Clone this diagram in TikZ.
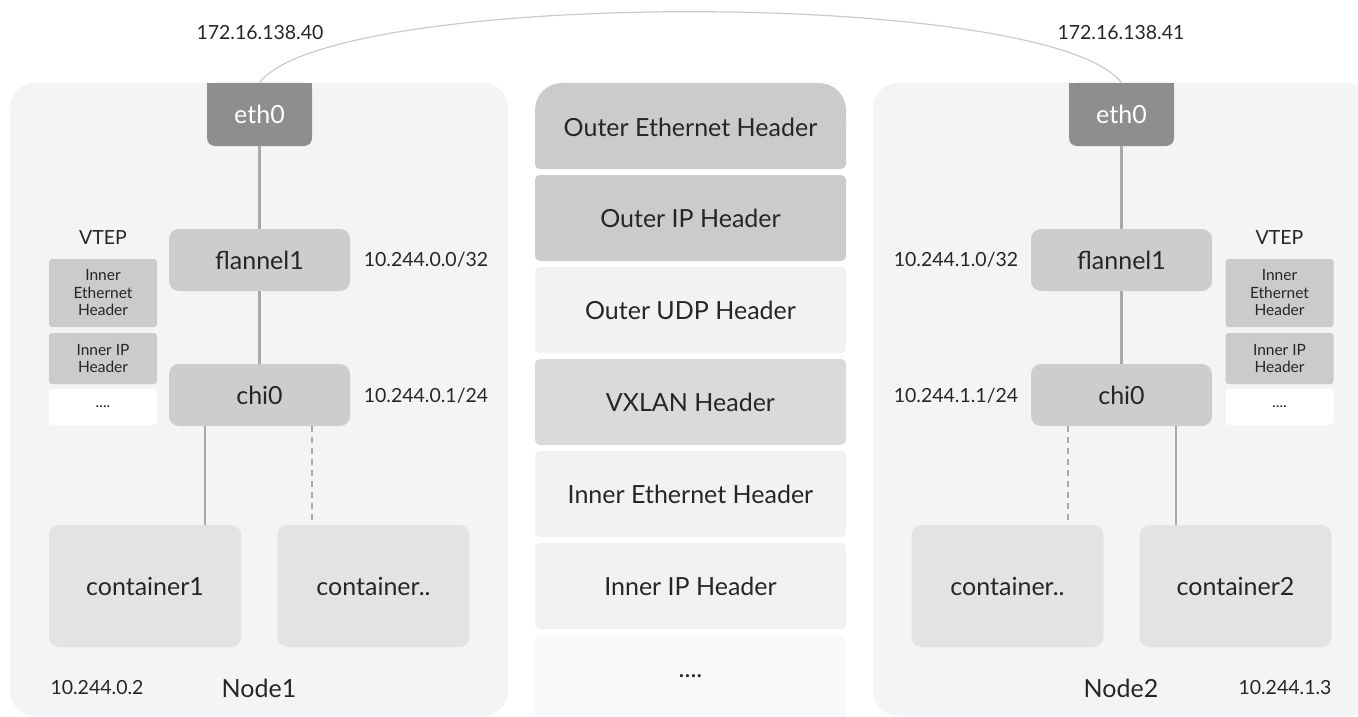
\documentclass[tikz,border=0pt]{standalone}
\usepackage{fontspec}
\setmainfont{Lato}
\definecolor{panelbg}{HTML}{F3F4F6}
\definecolor{ethc}{HTML}{8E8E8E}
\definecolor{ifc}{HTML}{CDCDCD}
\definecolor{contc}{HTML}{E3E3E3}
\definecolor{hdark}{HTML}{CBCBCB}
\definecolor{hmid}{HTML}{DADADA}
\definecolor{hlight}{HTML}{F1F2F4}
\definecolor{hlighter}{HTML}{F8F9FA}
\definecolor{linec}{HTML}{A9A9A9}
\definecolor{curvec}{HTML}{CACACA}
\definecolor{txt}{HTML}{262626}
\tikzset{
  box/.style={inner sep=0pt, rounded corners=10pt, text=txt},
  ethbox/.style={box, fill=ethc, minimum width=105pt, minimum height=63pt, rounded corners=8pt, text=white, font=\fontsize{25}{29}\selectfont},
  ifbox/.style={box, fill=ifc, minimum width=181pt, minimum height=62pt, font=\fontsize{25}{29}\selectfont},
  contbox/.style={box, fill=contc, minimum width=192pt, minimum height=122pt, font=\fontsize{25}{29}\selectfont},
  vtepbox/.style={box, fill=hdark, rounded corners=3pt, minimum width=108pt, align=center, font=\fontsize{15.5}{17.5}\selectfont},
  hdr/.style={box, rounded corners=5pt, minimum width=311pt, minimum height=86pt, font=\fontsize{25}{29}\selectfont},
  lbl/.style={inner sep=0pt, text=txt, font=\fontsize{19.5}{23}\selectfont},
  biglbl/.style={inner sep=0pt, text=txt, font=\fontsize{25}{29}\selectfont},
  link/.style={draw=linec, line width=2.5pt},
  dlink/.style={draw=linec, line width=2.2pt, dash pattern=on 6pt off 5pt},
  curveline/.style={draw=curvec, line width=1.2pt},
}
\begin{document}
\begin{tikzpicture}[x=1pt,y=-1pt]
\useasboundingbox (0,0) rectangle (1358,717);
\clip (0,0) rectangle (1358,717);

% panels
\fill[panelbg, rounded corners=25pt] (10,83) rectangle (508,716);
\fill[panelbg, rounded corners=25pt] (873,83) rectangle (1371,716);

% ---------- Node1 ----------
\fill[ethc] (207,83) rectangle (312,110);
\node[ethbox] (ethL) at (259.5,114.5) {eth0};
\node[ifbox] (flL) at (259.5,260) {flannel1};
\node[ifbox] (chiL) at (259.5,395) {chi0};
\node[contbox] (c1L) at (145,586) {container1};
\node[contbox] (c2L) at (373.5,586) {container..};

\draw[link] (ethL) -- (flL);
\draw[link] (flL) -- (chiL);
\draw[link] ([xshift=-54.5pt]chiL.south) -- ([xshift=-54.5pt]chiL.south |- c1L.north);
\draw[dlink] ([xshift=52.5pt]chiL.south) -- ([xshift=52.5pt]chiL.south |- c2L.north);

\node[lbl] (vtepL) at (103,238) {VTEP};
\node[vtepbox, minimum height=68pt] (v1L) at (103,293) {Inner\\Ethernet\\Header};
\node[vtepbox, minimum height=51pt] (v2L) at (103,358.5) {Inner IP\\Header};
\node[vtepbox, fill=white, minimum height=36pt] (v3L) at (103,407) {....};

\node[lbl] (ipflL) at (426,260) {10.244.0.0/32};
\node[lbl] (ipchiL) at (426,396) {10.244.0.1/24};
\node[lbl] (ipethL) at (260,33) {172.16.138.40};
\node[lbl] (ipcL) at (97,688) {10.244.0.2};
\node[biglbl] (nameL) at (259,688) {Node1};

% ---------- Node2 ----------
\fill[ethc] (1069,83) rectangle (1174,110);
\node[ethbox] (ethR) at (1121.5,114.5) {eth0};
\node[ifbox] (flR) at (1121.5,260) {flannel1};
\node[ifbox] (chiR) at (1121.5,395) {chi0};
\node[contbox] (c1R) at (1007.5,586) {container..};
\node[contbox] (c2R) at (1235.5,586) {container2};

\draw[link] (ethR) -- (flR);
\draw[link] (flR) -- (chiR);
\draw[dlink] ([xshift=-53.5pt]chiR.south) -- ([xshift=-53.5pt]chiR.south |- c1R.north);
\draw[link] ([xshift=54.5pt]chiR.south) -- ([xshift=54.5pt]chiR.south |- c2R.north);

\node[lbl] (vtepR) at (1279.5,238) {VTEP};
\node[vtepbox, minimum height=68pt] (v1R) at (1279.5,293) {Inner\\Ethernet\\Header};
\node[vtepbox, minimum height=51pt] (v2R) at (1279.5,358.5) {Inner IP\\Header};
\node[vtepbox, fill=white, minimum height=36pt] (v3R) at (1279.5,407) {....};

\node[lbl] (ipflR) at (956,260) {10.244.1.0/32};
\node[lbl] (ipchiR) at (956,396) {10.244.1.1/24};
\node[lbl] (ipethR) at (1121,33) {172.16.138.41};
\node[lbl] (ipcR) at (1285,688) {10.244.1.3};
\node[biglbl] (nameR) at (1121,688) {Node2};

% ---------- link between eth0s ----------
\draw[curveline] (ethL.north) .. controls (330,-12) and (1050,-12) .. (ethR.north);

% ---------- header stack ----------
\begin{scope}
  \clip (535,126) rectangle (846,170);
  \fill[hdark, rounded corners=5pt] (535,83) rectangle (846,169);
\end{scope}
\begin{scope}
  \clip (535,82) rectangle (846,127);
  \fill[hdark, rounded corners=27pt] (535,83) rectangle (846,169);
\end{scope}
\node[inner sep=0pt, text=txt, font=\fontsize{25}{29}\selectfont] (h1) at (690.5,127) {Outer Ethernet Header};
\node[hdr, fill=hdark] (h2) at (690.5,218) {Outer IP Header};
\node[hdr, fill=hlight] (h3) at (690.5,310) {Outer UDP Header};
\node[hdr, fill=hmid] (h4) at (690.5,402) {VXLAN Header};
\node[hdr, fill=hlight] (h5) at (690.5,494) {Inner Ethernet Header};
\node[hdr, fill=hlight] (h6) at (690.5,586) {Inner IP Header};
\fill[hlighter, rounded corners=5pt] (535,635) rectangle (846,740);
\node[inner sep=0pt, text=txt, font=\fontsize{25}{29}\selectfont] (h7) at (690.5,676) {....};
\end{tikzpicture}
\end{document}
